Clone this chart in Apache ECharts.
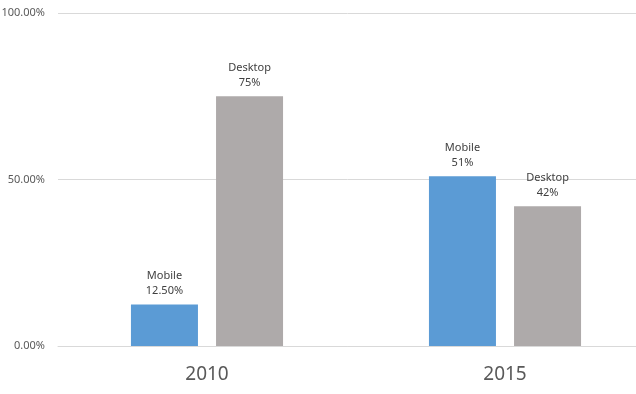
<!DOCTYPE html>
<html><head><meta charset="utf-8">
<script src="https://cdn.jsdelivr.net/npm/echarts@6/dist/echarts.min.js"></script>
<style>html,body{margin:0;padding:0;background:#fff}#c{width:636px;height:394px}</style>
</head><body><div id="c"></div>
<script>
const categories = ['2010', '2015'];
const mobileValues = [12.5, 51];
const desktopValues = [75, 42];
const mobileLabels = ['12.50%', '51%'];
const desktopLabels = ['75%', '42%'];
const yTicks = { min: 0, max: 100, interval: 50 };

const font = '"Noto Sans", sans-serif';
const chart = echarts.init(document.getElementById('c'));
function lbl(name, texts) {
  return {
    show: true, position: 'top', distance: 6,
    fontFamily: font, fontSize: 11, color: '#404040', lineHeight: 15,
    formatter: p => name + '\n' + texts[p.dataIndex]
  };
}
chart.setOption({
  animation: false,
  grid: { left: 58, width: 596, top: 13, bottom: 48, containLabel: false, outerBoundsMode: 'none' },
  xAxis: {
    type: 'category', data: categories,
    axisLine: { show: true, lineStyle: { color: '#D9D9D9' } },
    axisTick: { show: false },
    axisLabel: { fontFamily: font, fontSize: 19, color: '#595959', margin: 19 }
  },
  yAxis: {
    type: 'value', min: yTicks.min, max: yTicks.max, interval: yTicks.interval,
    axisLine: { show: false }, axisTick: { show: false },
    splitLine: { lineStyle: { color: '#D9D9D9', width: 1 } },
    axisLabel: { fontFamily: font, fontSize: 11, color: '#595959', margin: 13,
      formatter: v => v.toFixed(2) + '%' }
  },
  series: [
    { name: 'Mobile', type: 'bar', data: mobileValues, barWidth: 67, barGap: '27%',
      itemStyle: { color: '#5B9BD5' }, label: lbl('Mobile', mobileLabels) },
    { name: 'Desktop', type: 'bar', data: desktopValues, barWidth: 67,
      itemStyle: { color: '#AEAAAA' }, label: lbl('Desktop', desktopLabels) }
  ]
});
</script></body></html>
